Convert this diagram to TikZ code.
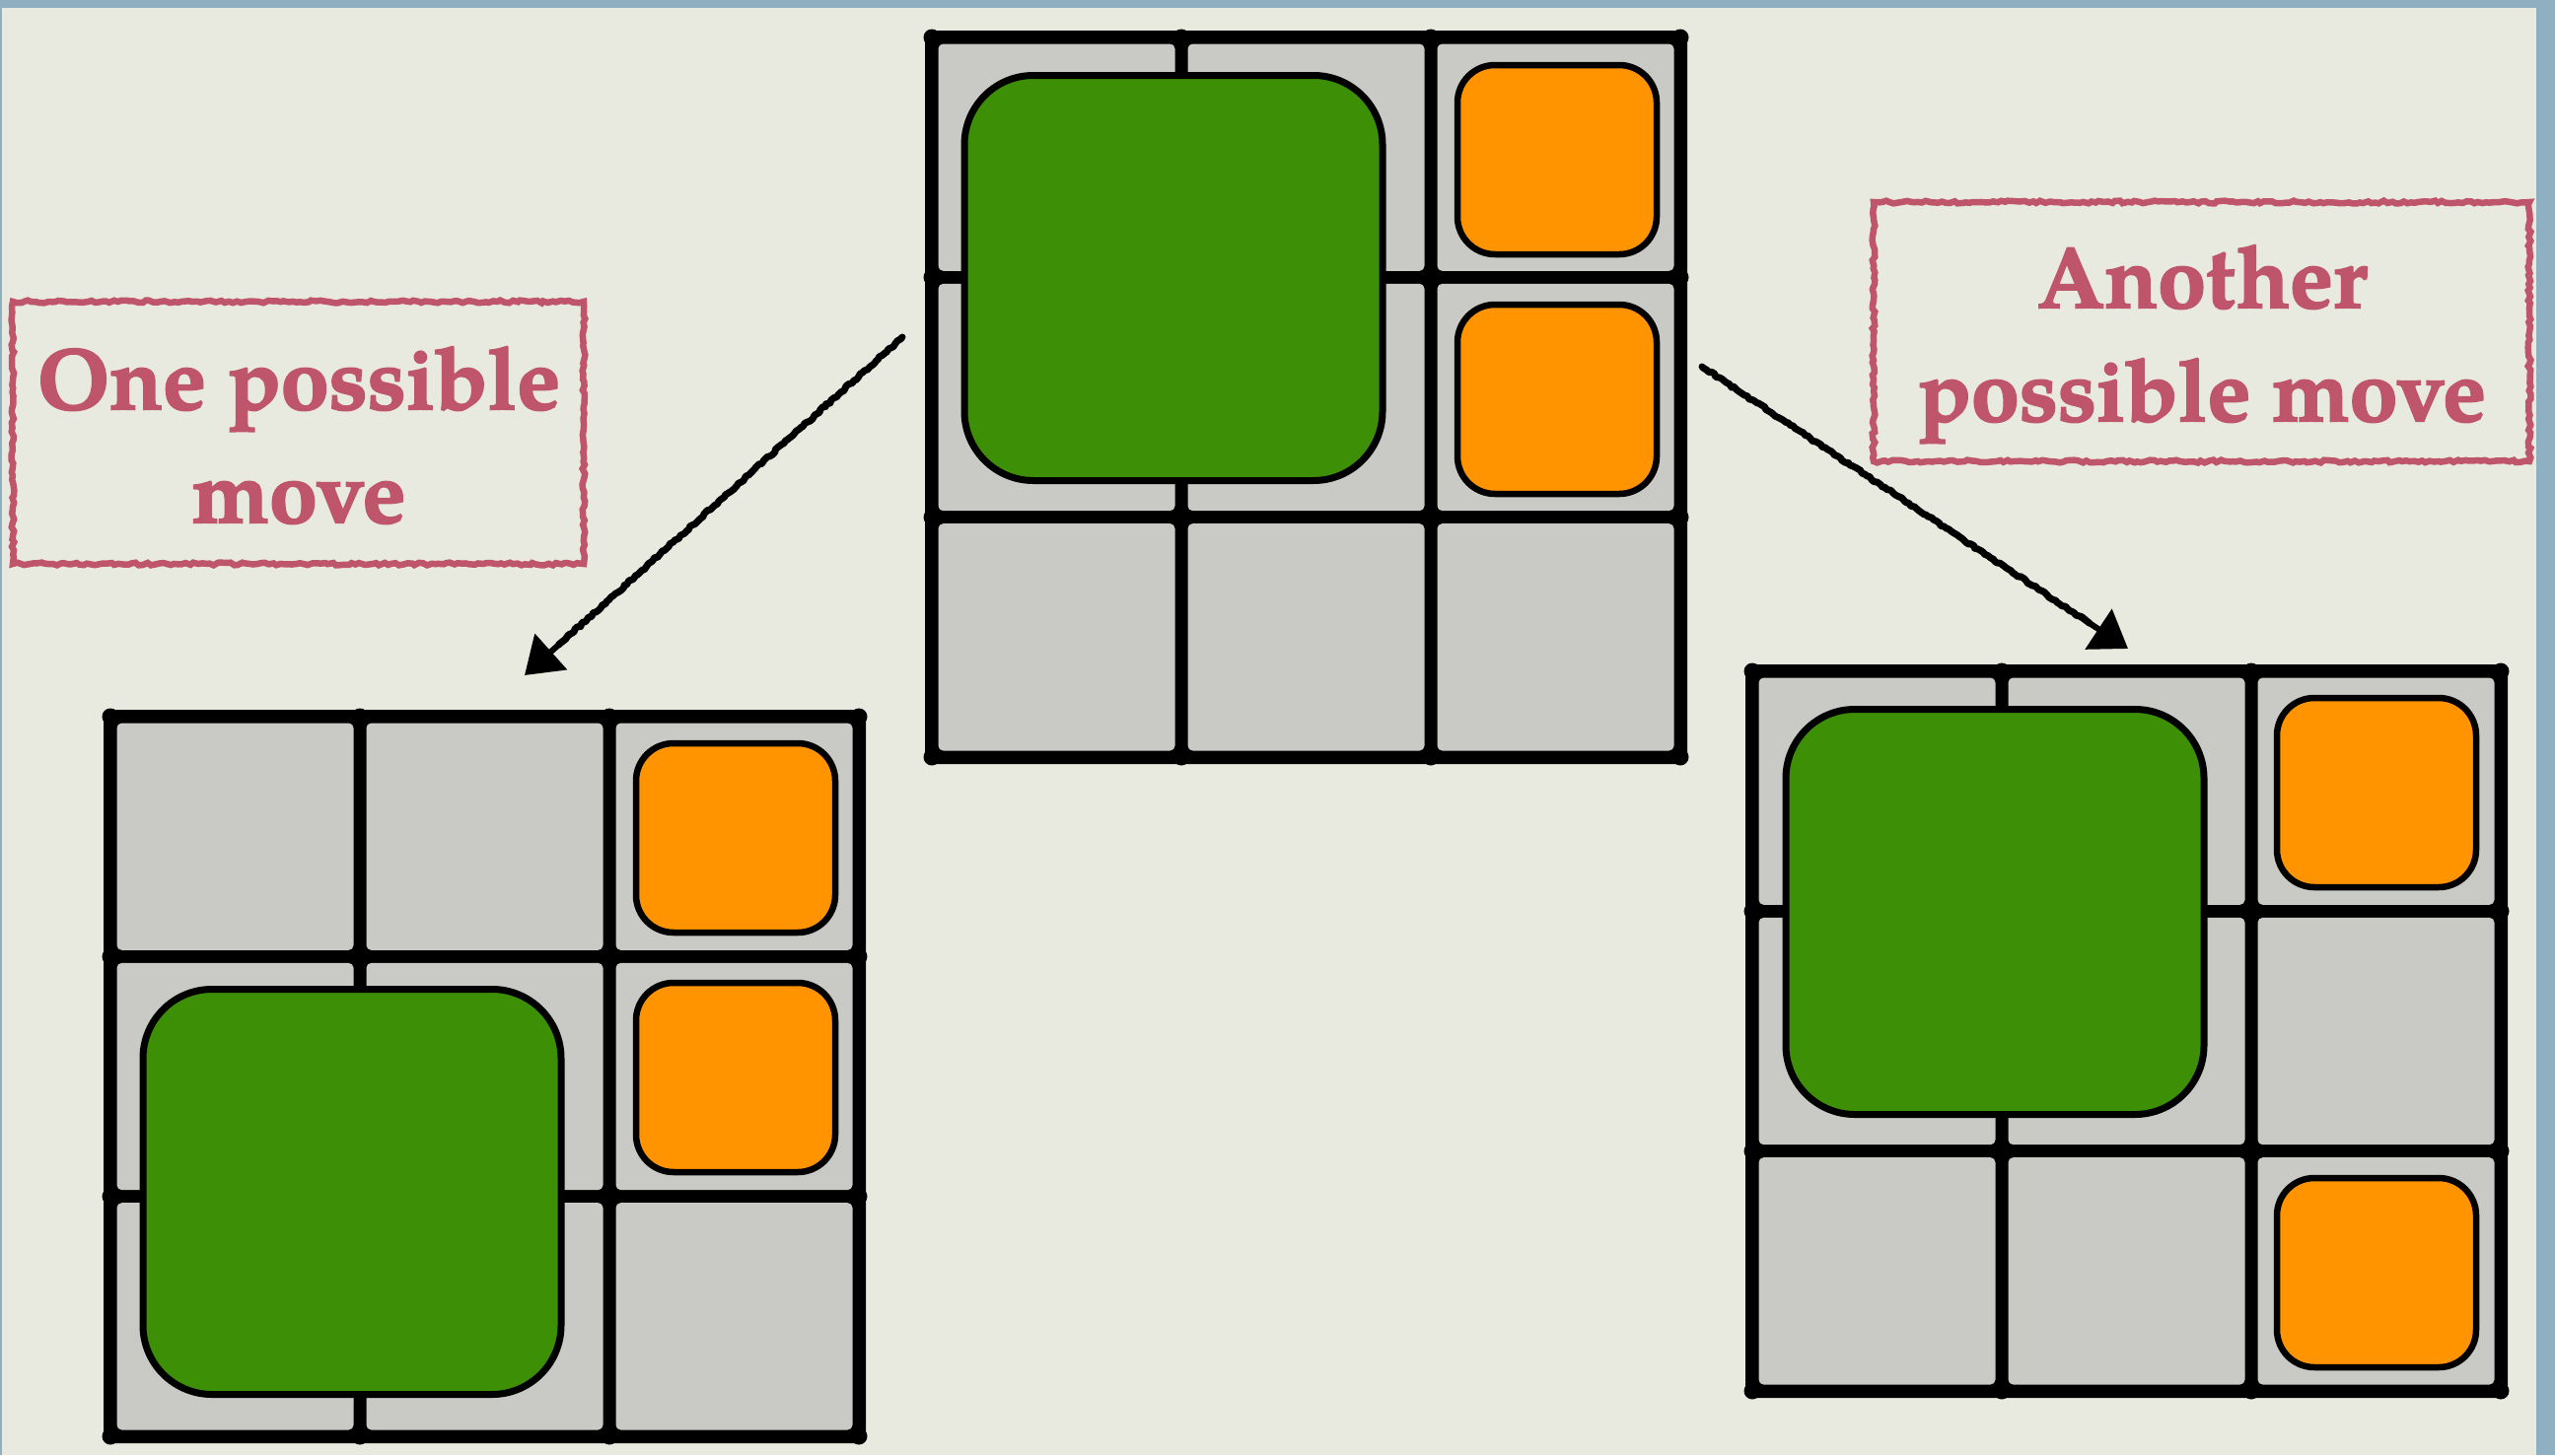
\documentclass[tikz,border=0pt]{standalone}
\usepackage{fontspec}
\newfontfamily\lblfont{TeX Gyre Pagella}[BoldFeatures={FakeBold=2.2}]
\usetikzlibrary{arrows.meta,decorations.pathmorphing,calc}

\definecolor{paper}{HTML}{E9EADF}
\definecolor{frame}{HTML}{8FB0C1}
\definecolor{cell}{HTML}{C9C9C5}
\definecolor{piece}{HTML}{3D8F05}
\definecolor{tile}{HTML}{FF9400}
\definecolor{ink}{HTML}{BF556A}

\begin{document}
\pgfmathsetseed{7}
\begin{tikzpicture}[x=1pt,y=-1pt,
  cellbox/.style={fill=cell, rounded corners=5pt},
  bigpiece/.style={draw=black, line width=7pt, fill=piece, rounded corners=70pt,
    minimum width=424pt, minimum height=411pt, inner sep=0pt},
  smallpiece/.style={draw=black, line width=6.5pt, fill=tile, rounded corners=38pt,
    minimum width=202pt, minimum height=192pt, inner sep=0pt},
  lblbox/.style={draw=ink, line width=6.5pt, inner sep=0pt, decorate,
    decoration={random steps, segment length=4pt, amplitude=1.4pt}},
  lbltext/.style={text=ink, font={\lblfont\bfseries\fontsize{88pt}{115pt}\selectfont},
    inner sep=0pt, anchor=base},
  movearrow/.style={draw=black, line width=7pt, line cap=round, line join=round, decorate,
    decoration={random steps, segment length=3pt, amplitude=1.1pt}},
  movetip/.style={draw=black, fill=black, line width=6pt, -{Triangle[length=36pt,width=48pt]}},
  board/.pic={
    % black frame: the gaps between the cells form the grid lines
    \fill[black, rounded corners=8pt] (-7,-7) rectangle (766,737);
    \foreach \i in {0,1,2}{
      \foreach \j in {0,1,2}{
        \fill[cellbox] ({\i*253+6.5},{\j*243.33+6.5}) rectangle ({(\i+1)*253-6.5},{(\j+1)*243.33-6.5});
      }
    }
    % small blobs where the lines meet the border
    \foreach \u/\v in {0/0,253/0,506/0,759/0,0/730,253/730,506/730,759/730,
                       0/243.33,0/486.67,759/243.33,759/486.67}
      \fill[black] (\u,\v) circle (8.5pt);
  }
]
\useasboundingbox (0,0) rectangle (2591,1476);

% backdrop
\fill[frame] (0,0) rectangle (2591,1476);
\fill[paper] (2,8) rectangle (2572,1476);

% the three boards
\pic (bT) at (945,38) {board};
\pic (bL) at (112,727) {board};
\pic (bR) at (1777,681) {board};

% starting position
\node[bigpiece]   (gT)  at (1190,282) {};
\node[smallpiece] (oT1) at (1579,162) {};
\node[smallpiece] (oT2) at (1579,405) {};

% big piece moved down
\node[bigpiece]   (gL)  at (357,1209) {};
\node[smallpiece] (oL1) at (746,850) {};
\node[smallpiece] (oL2) at (746,1093) {};

% small piece moved down
\node[bigpiece]   (gR)  at (2023,925) {};
\node[smallpiece] (oR1) at (2410,804) {};
\node[smallpiece] (oR3) at (2410,1291) {};

% arrows
\coordinate (aLs) at (915,342);
\coordinate (aLe) at (532,685);
\coordinate (aRs) at (1726,372);
\coordinate (aRe) at (2158,658);
\draw[movearrow] (aLs) -- ($(aLs)!0.91!(aLe)$);
\draw[movetip] ($(aLs)!0.88!(aLe)$) -- (aLe);
\draw[movearrow] (aRs) -- ($(aRs)!0.91!(aRe)$);
\draw[movetip] ($(aRs)!0.88!(aRe)$) -- (aRe);

% captions
\node[lblbox, minimum width=579pt, minimum height=266pt] (boxL) at (302.5,439) {};
\node[lbltext] (txtL1) at (303,415) {One possible};
\node[lbltext] (txtL2) at (303,530) {move};
\node[lblbox, minimum width=665pt, minimum height=263pt] (boxR) at (2232.5,336.5) {};
\node[lbltext] (txtR1) at (2233,312) {Another};
\node[lbltext] (txtR2) at (2233,427) {possible move};
\end{tikzpicture}
\end{document}
